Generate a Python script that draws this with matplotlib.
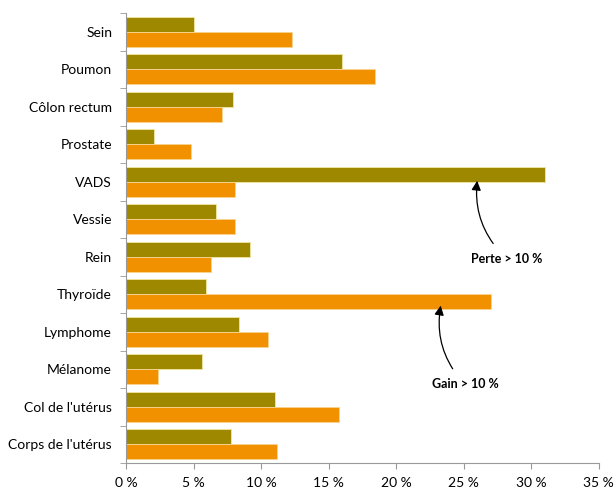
import numpy as np
import matplotlib.pyplot as plt
from matplotlib.ticker import FuncFormatter, FixedLocator

plt.rcParams['font.family'] = ['Lato', 'DejaVu Sans']

categories = ["Sein", "Poumon", "Côlon rectum", "Prostate", "VADS", "Vessie",
              "Rein", "Thyroïde", "Lymphome", "Mélanome", "Col de l'utérus",
              "Corps de l'utérus"]
perte = [5.0, 16.0, 7.9, 2.1, 31.0, 6.7, 9.2, 5.9, 8.4, 5.6, 11.0, 7.8]
gain = [12.3, 18.4, 7.1, 4.8, 8.1, 8.1, 6.3, 27.0, 10.5, 2.4, 15.8, 11.2]

olive = '#9e8800'
orange = '#f29100'

fig = plt.figure(figsize=(6.16, 4.88), dpi=100)
ax = fig.add_axes([0.2045, 0.051, 0.7675, 0.922])

y = np.arange(len(categories))
h = 0.4
ax.barh(y - h / 2, perte, height=h, color=olive, edgecolor='#f3e6a0', linewidth=0.6)
ax.barh(y + h / 2, gain, height=h, color=orange, edgecolor='#f8d590', linewidth=0.6)

ax.set_ylim(len(categories) - 0.5, -0.5)
ax.set_xlim(0, 35)
ax.set_yticks(y)
ax.set_yticklabels(categories, fontsize=10)
ax.yaxis.set_minor_locator(FixedLocator(np.arange(-0.5, len(categories), 1)))
ax.tick_params(axis='y', which='major', length=0, pad=10)
ax.tick_params(axis='y', which='minor', length=4, color='#999999')
ax.set_xticks(np.arange(0, 36, 5))
ax.xaxis.set_major_formatter(FuncFormatter(lambda v, p: f"{int(v)} %"))
ax.tick_params(axis='x', length=4, color='#999999', labelsize=10, pad=6)

for s in ['top', 'right']:
    ax.spines[s].set_visible(False)
for s in ['left', 'bottom']:
    ax.spines[s].set_color('#999999')

ax.annotate("Perte > 10 %", xy=(26.0, 3.97), xytext=(28.2, 6.05),
            fontsize=9, fontweight='bold', ha='center', va='center',
            arrowprops=dict(arrowstyle='-|>', color='black', lw=0.9,
                            mutation_scale=14, shrinkA=6, shrinkB=0,
                            connectionstyle='arc3,rad=-0.25'))
ax.annotate("Gain > 10 %", xy=(23.3, 7.3), xytext=(25.1, 9.4),
            fontsize=9, fontweight='bold', ha='center', va='center',
            arrowprops=dict(arrowstyle='-|>', color='black', lw=0.9,
                            mutation_scale=14, shrinkA=6, shrinkB=0,
                            connectionstyle='arc3,rad=-0.25'))

fig.savefig('out.png', dpi=100)
